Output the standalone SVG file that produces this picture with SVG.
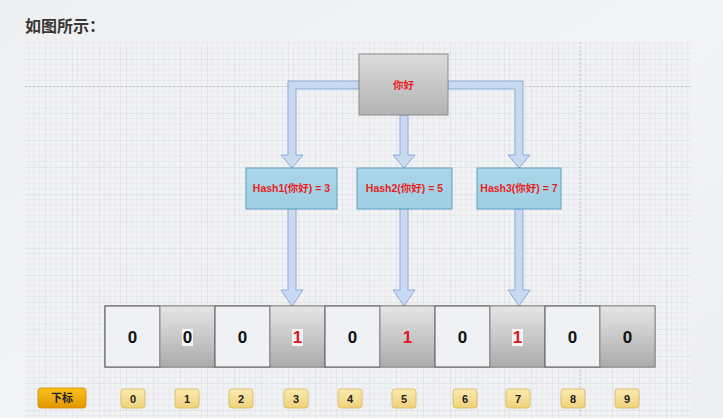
<svg xmlns="http://www.w3.org/2000/svg" width="723" height="418" viewBox="0 0 723 418">
  <defs>
    <linearGradient id="bg" x1="0" y1="0" x2="1" y2="1">
      <stop offset="0" stop-color="#eeeff1"/>
      <stop offset="0.5" stop-color="#f3f4f6"/>
      <stop offset="1" stop-color="#eceef1"/>
    </linearGradient>
    <pattern id="grid" patternUnits="userSpaceOnUse" x="45" y="59" width="27" height="27">
      <rect width="27" height="27" fill="#f1f2f4"/>
      <path d="M5.4 0V27M10.8 0V27M16.2 0V27M21.6 0V27M0 5.4H27M0 10.8H27M0 16.2H27M0 21.6H27" stroke="#e2e4e8" stroke-width="0.6" fill="none"/>
      <path d="M0 0V27M0 0H27" stroke="#d2d5da" stroke-width="0.9" fill="none"/>
    </pattern>
    <linearGradient id="gray" x1="0" y1="0" x2="0" y2="1">
      <stop offset="0" stop-color="#e6e6e6"/>
      <stop offset="1" stop-color="#ababab"/>
    </linearGradient>
    <linearGradient id="topg" x1="0" y1="0" x2="0" y2="1">
      <stop offset="0" stop-color="#dcdcdc"/>
      <stop offset="1" stop-color="#b3b3b3"/>
    </linearGradient>
    <linearGradient id="hashg" x1="0" y1="0" x2="0" y2="1">
      <stop offset="0" stop-color="#a9d6e8"/>
      <stop offset="1" stop-color="#a0cfe3"/>
    </linearGradient>
    <linearGradient id="orange" x1="0" y1="0" x2="0" y2="1">
      <stop offset="0" stop-color="#f9c21a"/>
      <stop offset="1" stop-color="#e39600"/>
    </linearGradient>
    <linearGradient id="yellow" x1="0" y1="0" x2="0" y2="1">
      <stop offset="0" stop-color="#fbeab0"/>
      <stop offset="1" stop-color="#f0d27a"/>
    </linearGradient>
  </defs>
  <style>
    .title { font-family: "Noto Sans CJK SC", "Liberation Serif", serif; font-size: 16px; font-weight: bold; fill: #3a3636; }
    .arrow { fill: #c8daf1; stroke: #8eabd6; stroke-width: 1; }
    .hash { fill: url(#hashg); stroke: #5f9fbf; stroke-width: 1; }
    .hashtxt { font-family: "Liberation Sans", "Noto Sans CJK SC", sans-serif; font-size: 10.5px; font-weight: bold; fill: #e8221f; text-anchor: middle; }
    .cellw { fill: #eff1f4; stroke: #555555; stroke-width: 1; }
    .cellg { fill: url(#gray); stroke: #8a8a8a; stroke-width: 1; }
    .num { font-family: "Liberation Sans", sans-serif; font-size: 17px; font-weight: bold; text-anchor: middle; fill: #111111; }
    .red { fill: #e3141b; }
    .idx { fill: url(#yellow); stroke: #d9b75a; stroke-width: 0.8; }
    .idxtxt { font-family: "Liberation Sans", "Noto Sans CJK SC", sans-serif; font-size: 11px; font-weight: bold; fill: #222222; text-anchor: middle; }
  </style>

  <!-- background -->
  <rect x="0" y="0" width="723" height="418" fill="url(#bg)"/>
  <rect x="25" y="42" width="666" height="376" fill="url(#grid)"/>
  <path d="M25 86.5H691" stroke="#c4c7cc" stroke-width="1" stroke-dasharray="2,2"/>
  <path d="M580.5 42V418" stroke="#c4c7cc" stroke-width="1" stroke-dasharray="2,2"/>

  <text class="title" x="25" y="32">如图所示：</text>

  <!-- connectors -->
  <g id="connectors">
    <path class="arrow" d="M359 81H288V155H281L292 168L303 155H296V89H359Z"/>
    <path class="arrow" d="M400 115H408V155H415L404 168L393 155H400Z"/>
    <path class="arrow" d="M448 81H523V155H530L519 168L508 155H515V89H448Z"/>
    <path class="arrow" d="M288 209H296V290H303L292 306L281 290H288Z"/>
    <path class="arrow" d="M400 209H408V290H415L404 306L393 290H400Z"/>
    <path class="arrow" d="M515 209H523V290H530L519 306L508 290H515Z"/>
  </g>

  <!-- top node -->
  <g id="node-nihao">
    <rect x="359" y="54" width="89" height="61" fill="url(#topg)" stroke="#8c8c8c" stroke-width="1"/>
    <text class="hashtxt" x="403.5" y="88.5" font-size="11">你好</text>
  </g>

  <!-- hash nodes -->
  <g id="node-hash1">
    <rect class="hash" x="246" y="168" width="91" height="41"/>
    <text class="hashtxt" x="291.5" y="192">Hash1(你好) = 3</text>
  </g>
  <g id="node-hash2">
    <rect class="hash" x="357" y="168" width="95" height="41"/>
    <text class="hashtxt" x="404.5" y="192">Hash2(你好) = 5</text>
  </g>
  <g id="node-hash3">
    <rect class="hash" x="477" y="168" width="84" height="41"/>
    <text class="hashtxt" x="519" y="192">Hash3(你好) = 7</text>
  </g>

  <!-- bit array -->
  <g id="node-array">
    <rect x="105" y="306" width="550" height="61" fill="none" stroke="#7a7a7a" stroke-width="1"/>
    <g id="cell-0"><rect class="cellw" x="105" y="306" width="55" height="61"/><text class="num" x="132.5" y="343">0</text></g>
    <g id="cell-1"><rect class="cellg" x="160" y="306" width="55" height="61"/><rect x="182" y="329" width="11" height="17" fill="#f2f4f7"/><text class="num" x="187.5" y="343">0</text></g>
    <g id="cell-2"><rect class="cellw" x="215" y="306" width="55" height="61"/><text class="num" x="242.5" y="343">0</text></g>
    <g id="cell-3"><rect class="cellg" x="270" y="306" width="55" height="61"/><rect x="292" y="329" width="11" height="17" fill="#f2f4f7"/><text class="num red" x="297.5" y="343">1</text></g>
    <g id="cell-4"><rect class="cellw" x="325" y="306" width="55" height="61"/><text class="num" x="352.5" y="343">0</text></g>
    <g id="cell-5"><rect class="cellg" x="380" y="306" width="55" height="61"/><text class="num red" x="407.5" y="343">1</text></g>
    <g id="cell-6"><rect class="cellw" x="435" y="306" width="55" height="61"/><text class="num" x="462.5" y="343">0</text></g>
    <g id="cell-7"><rect class="cellg" x="490" y="306" width="55" height="61"/><rect x="512" y="329" width="11" height="17" fill="#f2f4f7"/><text class="num red" x="517.5" y="343">1</text></g>
    <g id="cell-8"><rect class="cellw" x="545" y="306" width="55" height="61"/><text class="num" x="572.5" y="343">0</text></g>
    <g id="cell-9"><rect class="cellg" x="600" y="306" width="55" height="61"/><text class="num" x="627.5" y="343">0</text></g>
  </g>

  <!-- index labels -->
  <g id="node-xiabiao">
    <rect x="38" y="388" width="48" height="20" rx="3" fill="url(#orange)" stroke="#d08a00" stroke-width="0.8"/>
    <text class="idxtxt" x="62" y="402" font-size="12">下标</text>
  </g>
  <g id="idx-0"><rect class="idx" x="121" y="389" width="24" height="19" rx="3"/><text class="idxtxt" x="133" y="402.5">0</text></g>
  <g id="idx-1"><rect class="idx" x="175" y="389" width="24" height="19" rx="3"/><text class="idxtxt" x="187" y="402.5">1</text></g>
  <g id="idx-2"><rect class="idx" x="229" y="389" width="24" height="19" rx="3"/><text class="idxtxt" x="241" y="402.5">2</text></g>
  <g id="idx-3"><rect class="idx" x="284" y="389" width="24" height="19" rx="3"/><text class="idxtxt" x="296" y="402.5">3</text></g>
  <g id="idx-4"><rect class="idx" x="338" y="389" width="24" height="19" rx="3"/><text class="idxtxt" x="350" y="402.5">4</text></g>
  <g id="idx-5"><rect class="idx" x="392" y="389" width="24" height="19" rx="3"/><text class="idxtxt" x="404" y="402.5">5</text></g>
  <g id="idx-6"><rect class="idx" x="453" y="389" width="24" height="19" rx="3"/><text class="idxtxt" x="465" y="402.5">6</text></g>
  <g id="idx-7"><rect class="idx" x="506" y="389" width="24" height="19" rx="3"/><text class="idxtxt" x="518" y="402.5">7</text></g>
  <g id="idx-8"><rect class="idx" x="561" y="389" width="24" height="19" rx="3"/><text class="idxtxt" x="573" y="402.5">8</text></g>
  <g id="idx-9"><rect class="idx" x="615" y="389" width="24" height="19" rx="3"/><text class="idxtxt" x="627" y="402.5">9</text></g>
</svg>
